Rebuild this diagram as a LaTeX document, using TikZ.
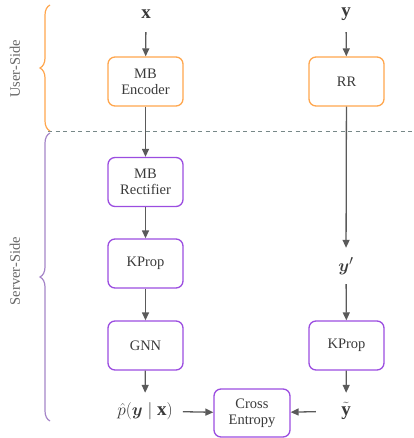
\documentclass[tikz,border=0pt]{standalone}
\usepackage{amsmath,bm}
\usepackage{fontspec}
\setmainfont{Liberation Serif}
\usetikzlibrary{arrows.meta,decorations.pathreplacing}
\definecolor{boxorange}{HTML}{FFA64D}
\definecolor{boxpurple}{HTML}{9B4DE0}
\definecolor{bracepurple}{HTML}{A585C8}
\definecolor{arrowgray}{HTML}{5A5A5A}
\definecolor{txtgray}{HTML}{3A3A3A}
\definecolor{dashgray}{HTML}{778888}
\definecolor{sidegray}{HTML}{666666}
\begin{document}
\begin{tikzpicture}[x=1pt,y=-1pt,
  font=\fontsize{14.5}{16}\selectfont,
  blk/.style={draw,line width=1.3pt,rounded corners=7pt,minimum width=75pt,minimum height=49pt,
    align=center,text=txtgray,inner sep=0pt},
  orangebox/.style={blk,draw=boxorange},
  purplebox/.style={blk,draw=boxpurple},
  lbl/.style={minimum height=36pt,inner xsep=10pt,inner ysep=0pt,text=txtgray,font=\fontsize{19}{21}\selectfont},
  arr/.style={draw=arrowgray,line width=1.3pt,-{Triangle[length=8pt,width=7pt]}},
  sidelbl/.style={rotate=90,text=sidegray}]
\useasboundingbox (0,0) rectangle (413,438);
% labels
\node[lbl] (x) at (146,14) {$\mathbf{x}$};
\node[lbl] (y) at (346,14) {$\mathbf{y}$};
\node[orangebox] (enc) at (145.5,81.5) {MB\\Encoder};
\node[orangebox] (rr) at (346.5,81.5) {RR};
\node[purplebox] (rect) at (145.5,182) {MB\\Rectifier};
\node[purplebox] (kp1) at (145.5,263.5) {KProp};
\node[lbl] (yp) at (346,266) {$\bm{y}'$};
\node[purplebox] (gnn) at (145.5,345.5) {GNN};
\node[purplebox] (kp2) at (346.5,345.5) {KProp};
\node[lbl] (phat) at (145,411) {$\hat{p}(\bm{y}\mid\mathbf{x})$};
\node[purplebox,minimum width=76pt,minimum height=48pt] (ce) at (252,413) {Cross\\Entropy};
\node[lbl,minimum width=60pt] (yt) at (346,411) {$\tilde{\mathbf{y}}$};
% arrows
\draw[arr] (x) -- (enc);
\draw[arr] (y) -- (rr);
\draw[arr] (enc) -- (rect);
\draw[arr] (rr) -- (yp);
\draw[arr] (rect) -- (kp1);
\draw[arr] (kp1) -- (gnn);
\draw[arr] (yp) -- (kp2);
\draw[arr] (gnn) -- (phat);
\draw[arr] (kp2) -- (yt);
\draw[arr] (phat) -- (ce);
\draw[arr] (yt) -- (ce);
% dashed separator
\coordinate (dl) at (48,131.5);
\coordinate (dr) at (413,131.5);
\draw[dashgray,line width=1.3pt,dash pattern=on 4pt off 3.5pt] (dl) -- (dr);
% braces
\coordinate (ub) at (50,131);
\coordinate (ut) at (50,5);
\coordinate (sb) at (50,421);
\coordinate (st) at (50,133);
\draw[boxorange,line width=1.2pt,decorate,decoration={brace,amplitude=10pt}] (ub) -- (ut);
\draw[bracepurple,line width=1.2pt,decorate,decoration={brace,amplitude=10pt,aspect=0.5}] (sb) -- (st);
\node[sidelbl] (us) at (15,69) {User-Side};
\node[sidelbl] (ss) at (15,271) {Server-Side};
\end{tikzpicture}
\end{document}
